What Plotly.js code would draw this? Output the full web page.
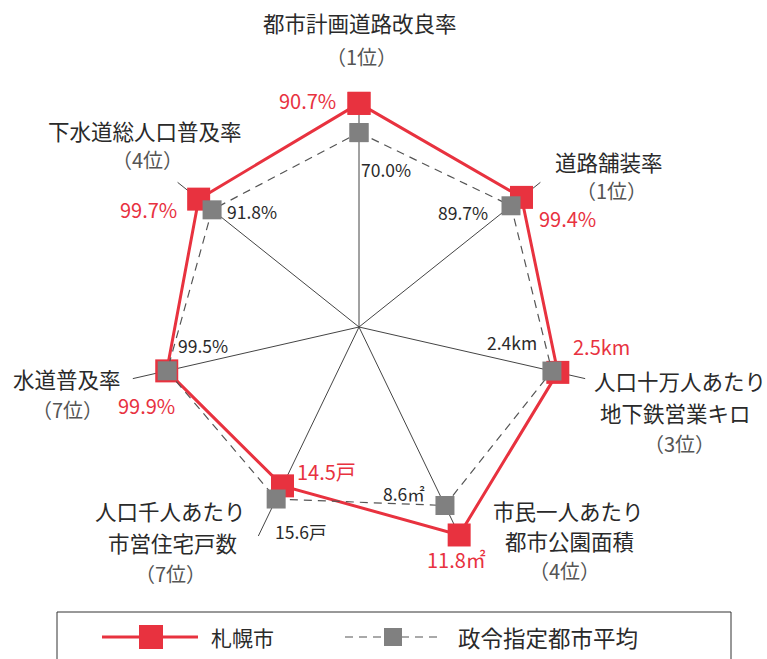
<!DOCTYPE html>
<html>
<head>
<meta charset="utf-8">
<script src="https://cdn.plot.ly/plotly-3.0.1.min.js"></script>
<style>
  html, body { margin: 0; padding: 0; background: #ffffff; }
  #chart { width: 767px; height: 659px; }
</style>
</head>
<body>
<div id="chart"></div>
<script>
// ---- data ----
const categories = ["都市計画道路改良率", "道路舗装率", "人口十万人あたり地下鉄営業キロ", "市民一人あたり都市公園面積", "人口千人あたり市営住宅戸数", "水道普及率", "下水道総人口普及率"];
const ranks = ["（1位）", "（1位）", "（3位）", "（4位）", "（7位）", "（7位）", "（4位）"];
// relative scores as plotted (position along each spoke, 0-100 = spoke length)
const sapporoScore = [96.4, 89.6, 87.9, 99.5, 76.0, 85.0, 88.4];
const averageScore = [83.8, 83.8, 85.3, 85.4, 82.3, 84.8, 81.0];
// value labels
const sapporoLabels = ["90.7%", "99.4%", "2.5km", "11.8㎡", "14.5戸", "99.9%", "99.7%"];
const averageLabels = ["70.0%", "89.7%", "2.4km", "8.6㎡", "15.6戸", "99.5%", "91.8%"];
const seriesNames = ["札幌市", "政令指定都市平均"];

// ---- layout constants ----
const W = 767, H = 659;
const CX = 359, CY = 327, R = 232;
const RED = "#e8323f", GRAY = "#808080", DARK = "#2a2a2a";
const FONT = "'Noto Sans CJK JP', 'Noto Sans', sans-serif";

function px2x(px) { return px / W; }
function py2y(py) { return 1 - py / H; }
function polarPx(i, r) {
  const th = (90 - i * 360 / categories.length) * Math.PI / 180;
  return [CX + r / 100 * R * Math.cos(th), CY - r / 100 * R * Math.sin(th)];
}
function closeLoop(a) { return a.concat([a[0]]); }

const traces = [
  {
    type: "scatterpolar",
    name: seriesNames[0],
    r: closeLoop(sapporoScore),
    theta: closeLoop(categories),
    mode: "lines+markers",
    line: { color: RED, width: 3 },
    marker: { symbol: "square", size: 23, color: RED },
    cliponaxis: false,
    hoverinfo: "skip"
  },
  {
    type: "scatterpolar",
    name: seriesNames[1],
    r: closeLoop(averageScore),
    theta: closeLoop(categories),
    mode: "lines+markers",
    line: { color: "#555555", width: 1.2, dash: "8px,6px" },
    marker: { symbol: "square", size: 19, color: GRAY },
    cliponaxis: false,
    hoverinfo: "skip"
  }
];

// label offsets (px) from marker centres: [dx, dy]
const sapporoOffsets = [[-52, -3], [46, 21], [44, -26], [-3, 25], [44, -14], [-20, 35], [-50, 10]];
const averageOffsets = [[27, 37], [-48, 7], [-40, -29], [-41, -12], [25, 32], [36, -25], [40, 2]];

const annotations = [];
function addValueLabels(scores, labels, offsets, color, size) {
  scores.forEach((r, i) => {
    const p = polarPx(i, r);
    annotations.push({
      x: px2x(p[0]), y: py2y(p[1]), xref: "paper", yref: "paper",
      text: labels[i], showarrow: false, borderpad: 0,
      xshift: offsets[i][0], yshift: -offsets[i][1],
      xanchor: "center", yanchor: "middle",
      font: { family: FONT, size: size, color: color }
    });
  });
}
addValueLabels(sapporoScore, sapporoLabels, sapporoOffsets, RED, 20);
addValueLabels(averageScore, averageLabels, averageOffsets, DARK, 17.5);

// category name lines with positions (centre px)
const nameLines = [
  [["都市計画道路改良率"], [[360, 23]]],
  [["道路舗装率"], [[609, 162]]],
  [["人口十万人あたり", "地下鉄営業キロ"], [[680, 380], [675, 412]]],
  [["市民一人あたり", "都市公園面積"], [[568, 510], [569, 540]]],
  [["人口千人あたり", "市営住宅戸数"], [[170, 510], [172, 542]]],
  [["水道普及率"], [[67, 378]]],
  [["下水道総人口普及率"], [[145, 130]]]
];
const rankPos = [[361, 56], [611, 190], [679, 443], [564, 570], [170, 573], [67, 409], [147, 160]];

nameLines.forEach((entry, i) => {
  entry[0].forEach((t, j) => {
    annotations.push({
      x: px2x(entry[1][j][0]), y: py2y(entry[1][j][1]), xref: "paper", yref: "paper",
      text: t, showarrow: false, borderpad: 0, xanchor: "center", yanchor: "middle",
      font: { family: FONT, size: 21.5, color: DARK }
    });
  });
  annotations.push({
    x: px2x(rankPos[i][0]), y: py2y(rankPos[i][1]), xref: "paper", yref: "paper",
    text: ranks[i], showarrow: false, borderpad: 0, xanchor: "center", yanchor: "middle",
    font: { family: FONT, size: 20, color: "#555555" }
  });
});

// legend (custom)
const LY = 637;
annotations.push({
  x: px2x(243), y: py2y(LY), xref: "paper", yref: "paper", text: seriesNames[0],
  showarrow: false, borderpad: 0, xanchor: "center", yanchor: "middle",
  font: { family: FONT, size: 21, color: DARK }
});
annotations.push({
  x: px2x(548), y: py2y(LY), xref: "paper", yref: "paper", text: seriesNames[1],
  showarrow: false, borderpad: 0, xanchor: "center", yanchor: "middle",
  font: { family: FONT, size: 22.5, color: DARK }
});
const shapes = [
  { type: "rect", xref: "paper", yref: "paper", x0: px2x(57), x1: px2x(731), y0: py2y(612), y1: py2y(700),
    line: { color: "#333333", width: 1 }, fillcolor: "rgba(0,0,0,0)" },
  { type: "line", xref: "paper", yref: "paper", x0: px2x(102), x1: px2x(198), y0: py2y(LY), y1: py2y(LY),
    line: { color: RED, width: 3 } },
  { type: "rect", xref: "paper", yref: "paper", x0: px2x(139), x1: px2x(163), y0: py2y(625), y1: py2y(649),
    line: { width: 0 }, fillcolor: RED },
  { type: "line", xref: "paper", yref: "paper", x0: px2x(345), x1: px2x(442), y0: py2y(LY), y1: py2y(LY),
    line: { color: "#555555", width: 1.2, dash: "8px,6px" } },
  { type: "rect", xref: "paper", yref: "paper", x0: px2x(384), x1: px2x(402), y0: py2y(628), y1: py2y(646),
    line: { width: 0 }, fillcolor: GRAY }
];

const layout = {
  width: W, height: H,
  margin: { l: 0, r: 0, t: 0, b: 0 },
  paper_bgcolor: "#ffffff",
  showlegend: false,
  font: { family: FONT },
  polar: {
    domain: { x: [px2x(CX - R), px2x(CX + R)], y: [py2y(CY + R), py2y(CY - R)] },
    bgcolor: "#ffffff",
    radialaxis: { visible: false, range: [0, 100], showgrid: false },
    angularaxis: {
      type: "category",
      categoryarray: categories,
      rotation: 90,
      direction: "clockwise",
      showticklabels: false,
      ticks: "",
      showline: false,
      showgrid: true,
      gridcolor: "#444444",
      gridwidth: 1
    }
  },
  annotations: annotations,
  shapes: shapes
};

Plotly.newPlot("chart", traces, layout, { displayModeBar: false, staticPlot: true });
</script>
</body>
</html>
